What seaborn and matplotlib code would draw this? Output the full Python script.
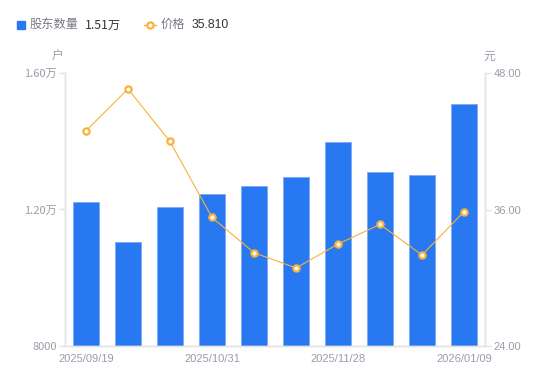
import numpy as np
import pandas as pd
import matplotlib
matplotlib.use("Agg")
import matplotlib.pyplot as plt
import seaborn as sns
from matplotlib.lines import Line2D
from matplotlib.patches import Rectangle

# %%
dates = ["2025/09/19", "2025/09/30", "2025/10/20", "2025/10/31", "2025/11/10",
         "2025/11/20", "2025/11/28", "2025/12/10", "2025/12/31", "2026/01/09"]
holders = [12230, 11040, 12060, 12460, 12680, 12950, 13980, 13100, 13000, 15100]
price = [42.92, 46.60, 41.98, 35.30, 32.20, 30.86, 32.96, 34.69, 32.00, 35.81]

left_ticks = [8000, 12000, 16000]
left_tick_labels = ["8000", "1.20万", "1.60万"]
right_ticks = [24, 36, 48]
right_tick_labels = ["24.00", "36.00", "48.00"]
shown_dates = ["2025/09/19", "2025/10/31", "2025/11/28", "2026/01/09"]

df = pd.DataFrame({"date": dates, "holders": holders, "price": price})

# %%
sns.set_style("white")
plt.rcParams["font.family"] = ["Liberation Sans", "Noto Sans CJK SC", "DejaVu Sans"]

bar_color = "#2878f2"
line_color = "#f7b23b"
tick_color = "#9c9cab"
axis_color = "#e3e3e8"

fig = plt.figure(figsize=(5.5, 3.81), dpi=100)
ax = fig.add_axes([65 / 550, 1 - 346 / 381, 420 / 550, 273 / 381])

sns.barplot(data=df, x="date", y="holders", color=bar_color, width=0.6,
            saturation=1, edgecolor="#7eaaf5", linewidth=0.6, ax=ax)
ax.set_ylim(8000, 16000)
ax.set_xlim(-0.5, 9.5)

ax2 = ax.twinx()
sns.pointplot(data=df, x="date", y="price", color=line_color, markers="o",
              linestyles="-", linewidth=0.8, markersize=4.5,
              markerfacecolor="white", markeredgewidth=1.6,
              markeredgecolor=line_color, errorbar=None, ax=ax2)
ax2.set_ylim(24, 48)
ax2.set_xlim(-0.5, 9.5)

# ticks / labels
ax.set_yticks(left_ticks, left_tick_labels)
for lbl in ax.get_yticklabels():
    lbl.set_family(["Noto Sans CJK SC"])
ax2.set_yticks(right_ticks, right_tick_labels)
pos = [dates.index(d) for d in shown_dates]
ax.set_xticks(pos, shown_dates)
for a in (ax, ax2):
    a.set_xlabel("")
    a.set_ylabel("")
    for s in a.spines.values():
        s.set_color(axis_color)
        s.set_linewidth(1)
    a.spines["top"].set_visible(False)
ax.tick_params(axis="y", length=4, width=1, color=axis_color, labelcolor=tick_color,
               labelsize=8, pad=2, left=True)
ax.tick_params(axis="x", length=0, labelcolor=tick_color, labelsize=8, pad=6)
ax2.tick_params(axis="y", length=4, width=1, color=axis_color, labelcolor=tick_color,
                labelsize=8, pad=2, right=True)

# units
fig.text(58 / 550, 1 - 57 / 381, "户", color=tick_color, fontsize=8.5,
         ha="center", va="center")
fig.text(489 / 550, 1 - 57 / 381, "元", color=tick_color, fontsize=8.5,
         ha="center", va="center")

# legend
fig.patches.append(Rectangle((17 / 550, 1 - 29 / 381), 8 / 550, 8 / 381,
                             transform=fig.transFigure, color=bar_color))
fig.text(30 / 550, 1 - 25 / 381, "股东数量", color="#7a7a88", fontsize=8.8, va="center")
fig.text(85 / 550, 1 - 25 / 381, "1.51万", color="#333333", fontsize=8.8, va="center",
         family=["Noto Sans CJK SC"])
fig.lines.append(Line2D([144 / 550, 156 / 550], [1 - 25 / 381, 1 - 25 / 381],
                        transform=fig.transFigure, color=line_color, lw=1))
fig.lines.append(Line2D([150 / 550], [1 - 25 / 381], transform=fig.transFigure,
                        color=line_color, marker="o", markersize=4.5,
                        markerfacecolor="white", markeredgewidth=1.6))
fig.text(161 / 550, 1 - 25 / 381, "价格", color="#7a7a88", fontsize=8.8, va="center")
fig.text(192 / 550, 1 - 25 / 381, "35.810", color="#333333", fontsize=8.8, va="center")

fig.savefig("out.png", dpi=100)
